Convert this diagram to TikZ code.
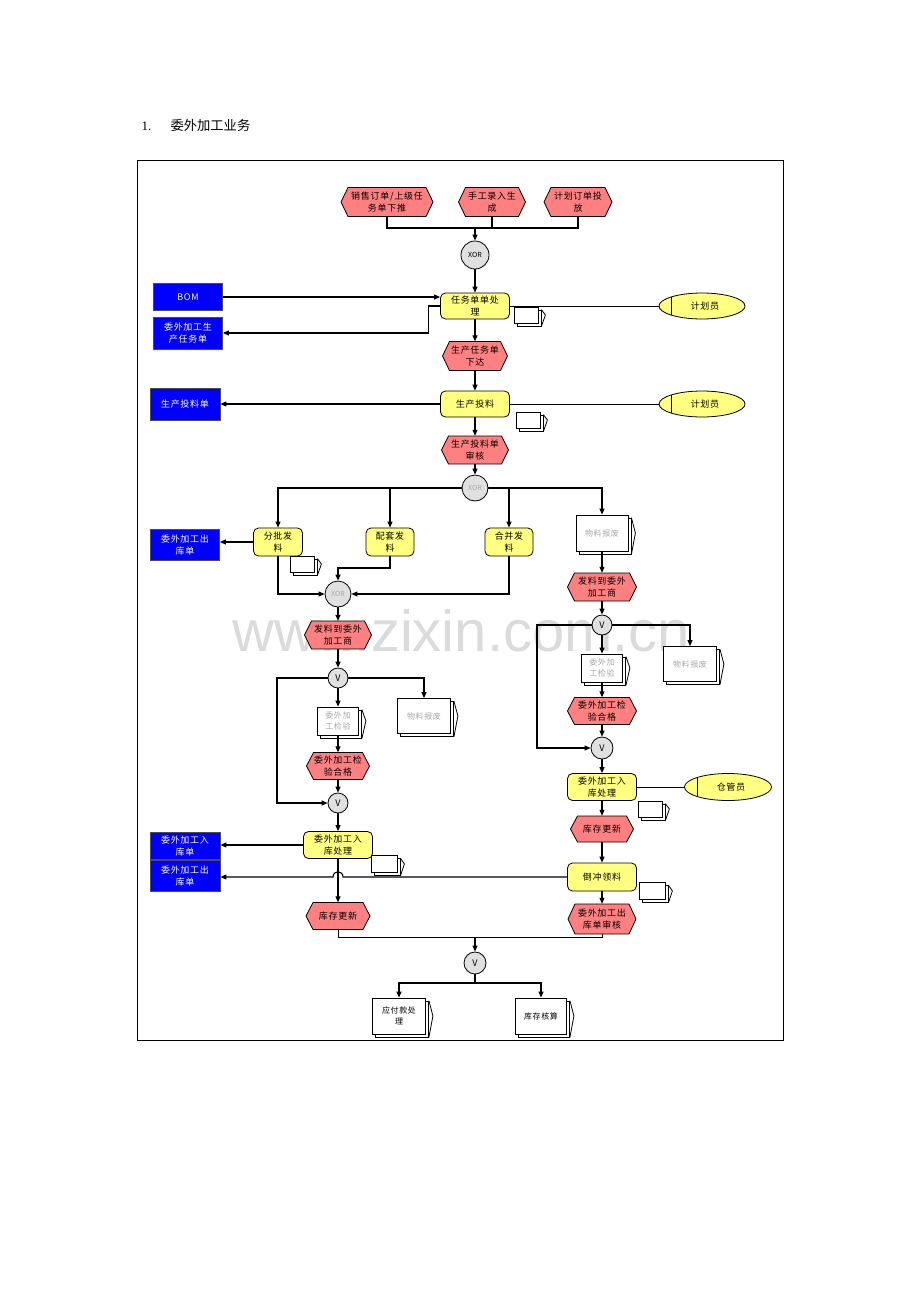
\documentclass[tikz,border=0pt]{standalone}
\usepackage{fontspec}
\setmainfont{Liberation Serif}
\newfontfamily\cjk[LetterSpace=8]{Noto Sans CJK SC}
\newfontfamily\cjkt{Noto Sans CJK SC}
\newfontfamily\wmfont{Liberation Sans}
\usetikzlibrary{shapes.geometric,arrows.meta,shadows}
\definecolor{hexred}{HTML}{FF8080}
\definecolor{boxyel}{HTML}{FFFF80}
\definecolor{boxblue}{HTML}{0000FF}
\definecolor{circgray}{HTML}{E0E0E0}
\definecolor{doctext}{HTML}{A8A8A8}
\tikzset{
  lbl/.style={font=\cjk\fontsize{9}{11.5}\selectfont, align=center, inner sep=0pt, text=black},
  sz/.style 2 args={minimum width=#1pt, minimum height=#2pt},
  hexshape/.style={fill=hexred, draw=black, line width=0.8pt},
  yelbox/.style={lbl, draw=black, fill=boxyel, rounded corners=5pt, line width=0.8pt},
  bluebox/.style={lbl, draw=black!70, fill=boxblue, text=white, line width=0.8pt},
  role/.style={lbl, ellipse, draw=black, fill=boxyel, line width=0.8pt},
  conn/.style={circle, draw=black, fill=circgray, inner sep=0pt, line width=0.8pt, font=\cjkt\fontsize{7}{8}\selectfont},
  docbox/.style={lbl, font=\cjk\fontsize{8}{11}\selectfont, draw=black, fill=white, line width=0.8pt, text=doctext,
     copy shadow={shadow xshift=3pt, shadow yshift=-3pt, fill=white, draw=black, line width=0.8pt}},
  wire/.style={line width=0.8pt},
  flow/.style={line width=1.1pt, -{Triangle[length=6pt,width=5pt]}},
  thickflow/.style={line width=1.9pt, -{Triangle[length=6pt,width=5pt]}},
}
\newcommand\hexbox[6]{%
  \path[hexshape] (#2-#4/2,#3) -- (#2-#4/2+7,#3-#5/2) -- (#2+#4/2-7,#3-#5/2) -- (#2+#4/2,#3)
     -- (#2+#4/2-7,#3+#5/2) -- (#2-#4/2+7,#3+#5/2) -- cycle;
  \node[lbl, sz={#4}{#5}] (#1) at (#2,#3) {#6};
}
\newcommand\docmark[1]{\draw[wire] ([xshift=3pt,yshift=-3pt]#1.north east) -- ([xshift=7pt]#1.east) -- ([xshift=3pt,yshift=-3pt]#1.south east);}
\newcommand\roleline[1]{\draw[wire] ([xshift=-31pt,yshift=9pt]#1.center) -- ([xshift=-31pt,yshift=-9pt]#1.center);}
\begin{document}
\begin{tikzpicture}[x=1pt,y=-1pt]
\useasboundingbox (0,0) rectangle (920,1302);
% title
\node[anchor=base west, font=\fontsize{13}{15}\selectfont] (num) at (138,130) {1.};
\node[anchor=base west, font=\cjkt\fontsize{13.3}{15}\selectfont] (ttl) at (167,130) {委外加工业务};
% frame
\draw[wire] (137,160) rectangle (783,1040);
% watermark
\node[anchor=base west, font=\wmfont\fontsize{58}{60}\selectfont, text=black!14] (wm) at (229,651) {www.zixin.com.cn};

% top events
\hexbox{t1}{387}{202}{92}{29}{销售订单/上级任\\务单下推}
\hexbox{t2}{492}{202}{67}{29}{手工录入生\\成}
\hexbox{t3}{578}{202}{68}{29}{计划订单投\\放}
\node[conn, minimum size=28pt] (xor1) at (475,255) {XOR};
\node[yelbox, sz={69}{26}] (rw) at (475,306) {任务单单处\\理};
\node[bluebox, sz={69}{27}] (bom) at (188,297) {BOM};
\node[bluebox, sz={69}{32}] (wsc) at (188,333) {委外加工生\\产任务单};
\node[role, sz={86}{26}] (jh1) at (702,306) {\hspace{6pt}计划员};
\roleline{jh1}
\node[docbox, sz={24}{16}] (d1) at (526,315) {};
\docmark{d1}
\hexbox{xd}{475}{356}{65}{29}{生产任务单\\下达}
\node[yelbox, sz={69}{26}] (tl) at (475,404) {生产投料};
\node[bluebox, sz={70}{32}] (tlb) at (185,404) {生产投料单};
\node[role, sz={86}{26}] (jh2) at (702,404) {\hspace{6pt}计划员};
\roleline{jh2}
\node[docbox, sz={24}{16}] (d2) at (528,420) {};
\docmark{d2}
\hexbox{sh}{475}{450}{67}{28}{生产投料单\\审核}
\node[conn, minimum size=26pt, text=doctext] (xor2) at (475,488) {XOR};

% issue types
\node[yelbox, sz={49}{28}] (fp) at (278,542) {分批发\\料};
\node[yelbox, sz={48}{28}] (pt) at (390,542) {配套发\\料};
\node[yelbox, sz={48}{28}] (hb) at (509,542) {合并发\\料};
\node[bluebox, sz={69}{31}] (ck1) at (185,545) {委外加工出\\库单};
\node[docbox, sz={24}{16}] (d3) at (302,564) {};
\docmark{d3}
\node[conn, minimum size=26pt, text=doctext] (xor3) at (338,594) {XOR};

% right column
\node[docbox, sz={52}{36}] (bf1) at (602,533) {物料报废};
\docmark{bf1}
\hexbox{fl2}{602}{587}{69}{28}{发料到委外\\加工商}
\node[conn, minimum size=20pt, font=\cjkt\fontsize{9}{10}\selectfont] (v2) at (602,625) {V};
\node[docbox, sz={53}{35}] (bf2) at (690,664) {物料报废};
\docmark{bf2}
\node[docbox, sz={41}{28}] (jy2) at (602,668) {委外加\\工检验};
\docmark{jy2}
\hexbox{hg2}{602}{711}{69}{27}{委外加工检\\验合格}
\node[conn, minimum size=22pt, font=\cjkt\fontsize{9}{10}\selectfont] (v4) at (602,748) {V};
\node[yelbox, sz={69}{27}] (rk2) at (602,787) {委外加工入\\库处理};
\node[role, sz={87}{27}] (cgy) at (728,787) {\hspace{6pt}仓管员};
\roleline{cgy}
\node[docbox, sz={24}{16}] (d4) at (650,809) {};
\docmark{d4}
\hexbox{kc2}{602}{829}{63}{26}{库存更新}
\node[yelbox, sz={69}{28}] (dc) at (602,877) {倒冲领料};
\node[docbox, sz={26}{17}] (d5) at (652,891) {};
\docmark{d5}
\hexbox{cksh}{602}{919}{68}{30}{委外加工出\\库单审核}

% left column
\hexbox{fl1}{338}{635}{67}{28}{发料到委外\\加工商}
\node[conn, minimum size=20pt, font=\cjkt\fontsize{9}{10}\selectfont] (v1) at (338,678) {V};
\node[docbox, sz={53}{35}] (bf3) at (424,716) {物料报废};
\docmark{bf3}
\node[docbox, sz={41}{28}] (jy1) at (338,721) {委外加\\工检验};
\docmark{jy1}
\hexbox{hg1}{338}{766}{63}{27}{委外加工检\\验合格}
\node[conn, minimum size=20pt, font=\cjkt\fontsize{9}{10}\selectfont] (v3) at (338,803) {V};
\node[yelbox, sz={69}{27}] (rk1) at (338,845) {委外加工入\\库处理};
\node[bluebox, sz={70}{27}] (rkd) at (185,846) {委外加工入\\库单};
\node[bluebox, sz={70}{31}] (ckd) at (185,876) {委外加工出\\库单};
\node[docbox, sz={26}{17}] (d6) at (384,864) {};
\docmark{d6}
\hexbox{kc1}{338}{916}{64}{27}{库存更新}

% bottom
\node[conn, minimum size=22pt, font=\cjkt\fontsize{9}{10}\selectfont] (v5) at (475,963) {V};
\node[docbox, sz={53}{36}, text=black] (yf) at (399,1016) {应付款处\\理};
\docmark{yf}
\node[docbox, sz={51}{36}, text=black] (kh) at (541,1016) {库存核算};
\docmark{kh}

% connectors
\coordinate (jt) at (475,228);
\draw[line width=1.3pt] (t1.south) |- (jt) -| (t3.south);
\draw[line width=1.3pt] (t2.south) -- (t2.south |- jt);
\draw[flow] (jt) -- (xor1.north);
\draw[flow] (xor1) -- (rw);
\draw[flow] (bom.east) -- (bom.east -| rw.west);
\draw[flow] (rw.west) -- ++(-12,0) |- (wsc.east);
\draw[wire] (rw.east) -- (jh1.west);
\draw[flow] (rw) -- (xd);
\draw[flow] (xd) -- (tl);
\draw[flow] (tl.west) -- (tlb.east);
\draw[wire] (tl.east) -- (jh2.west);
\draw[flow] (tl) -- (sh);
\draw[flow] (sh) -- (xor2);
\draw[flow] (xor2.west) -| (fp.north);
\draw[flow] (xor2.west) -| (pt.north);
\draw[flow] (xor2.east) -| (hb.north);
\draw[flow] (xor2.east) -| (bf1.north);
\draw[flow] (fp.west) -- (fp.west -| ck1.east);
\draw[flow] (fp.south) |- (xor3.west);
\draw[flow] (hb.south) |- (xor3.east);
\draw[thickflow] (pt.south) -- ++(0,12) -| (xor3.north);
\draw[thickflow] (xor3) -- (fl1);
\draw[thickflow] (fl1) -- (v1);
\draw[flow] (v1) -- (jy1);
\draw[flow] (v1.east) -| (bf3.north);
\coordinate (lx) at (277,740);
\draw[thickflow] (v1.west) -- (v1.west -| lx) |- (v3.west);
\draw[flow] (jy1) -- (hg1);
\draw[flow] (hg1) -- (v3);
\draw[flow] (v3) -- (rk1);
\draw[flow] (rk1.west) -- (rk1.west -| rkd.east);
\draw[flow] (rk1) -- (kc1);
\coordinate (ja) at (343,877);
\coordinate (jb) at (333,877);
\draw[flow] (dc.west) -- (ja) .. controls +(0,-7) and +(0,-7) .. (jb) -- (dc.west -| ckd.east);
\draw[flow] (bf1) -- (fl2);
\draw[flow] (fl2) -- (v2);
\draw[flow] (v2) -- (jy2);
\draw[flow] (v2.east) -| (bf2.north);
\coordinate (rx) at (537,700);
\draw[flow] (v2.west) -- (v2.west -| rx) |- (v4.west);
\draw[flow] (jy2) -- (hg2);
\draw[flow] (hg2) -- (v4);
\draw[flow] (v4) -- (rk2);
\draw[wire] (rk2.east) -- (cgy.west);
\draw[flow] (rk2) -- (kc2);
\draw[flow] (kc2) -- (dc);
\draw[flow] (dc) -- (cksh);
\coordinate (jb2) at (475,937);
\draw[wire] (kc1.south) |- (jb2) -| (cksh.south);
\draw[flow] (jb2) -- (v5.north);
\coordinate (jc) at (475,983);
\draw[flow] (v5.south) -- (jc) -| (yf.north);
\draw[flow] (jc) -| (kh.north);
\end{tikzpicture}
\end{document}
